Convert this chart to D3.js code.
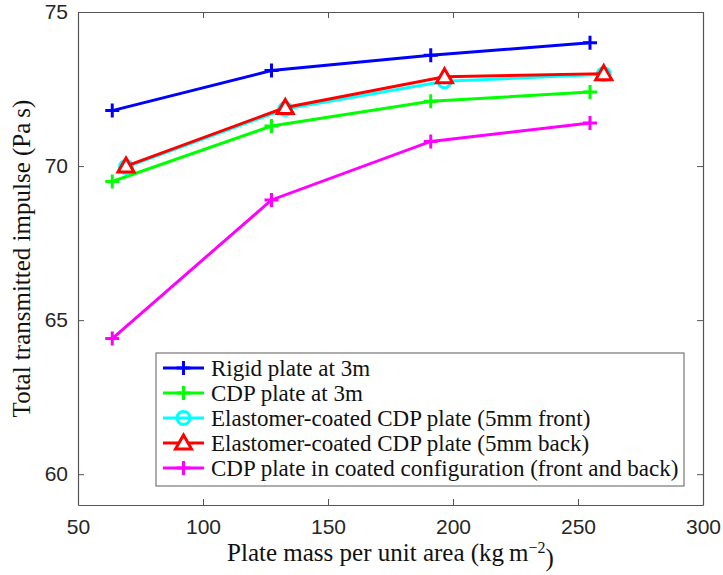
<!DOCTYPE html>
<html>
<head>
<meta charset="utf-8">
<script src="https://cdn.jsdelivr.net/npm/d3@7"></script>
<style>
  body { margin: 0; background: #fff; }
  svg { display: block; }
</style>
</head>
<body>
<svg id="chart"></svg>
<script>
// values
var massRigid = [63.7, 127.4, 191.1, 254.8],
    massCoated = [69.2, 132.9, 196.6, 260.3]

var rigid = [71.8, 73.1, 73.6, 74.0],
    cdp = [69.5, 71.3, 72.1, 72.4],
    coatedFront = [69.97, 71.85, 72.75, 72.98],
    coatedBack = [70.0, 71.9, 72.9, 73.0],
    cdpCoatedConfig = [64.4, 68.9, 70.8, 71.4]

var seriesNames = [
  "Rigid plate at 3m",
  "CDP plate at 3m",
  "Elastomer-coated CDP plate (5mm front)",
  "Elastomer-coated CDP plate (5mm back)",
  "CDP plate in coated configuration (front and back)"
]
var xTicks = [50, 100, 150, 200, 250, 300],
    yTicks = [60, 65, 70, 75]

var series = [
  {name: seriesNames[0], x: massRigid, y: rigid, color: "#0000ff", marker: "plus"},
  {name: seriesNames[1], x: massRigid, y: cdp, color: "#00ff00", marker: "plus"},
  {name: seriesNames[2], x: massCoated, y: coatedFront, color: "#00ffff", marker: "circle"},
  {name: seriesNames[3], x: massCoated, y: coatedBack, color: "#ff0000", marker: "triangle"},
  {name: seriesNames[4], x: massRigid, y: cdpCoatedConfig, color: "#ff00ff", marker: "plus"}
]

var width = 723,
    height = 575,
    mLeft = 78, mRight = 703, mTop = 12, mBottom = 505,
    axisColor = "#555",
    serif = "'Liberation Serif', 'DejaVu Serif', serif",
    sans = "'Liberation Sans', Arial, sans-serif"

var svg = d3.select("#chart").attr("width", width).attr("height", height)

var x = d3.scaleLinear().domain([50, 300]).range([mLeft, mRight]),
    y = d3.scaleLinear().domain([59, 75]).range([mBottom, mTop])

// axes: MATLAB style box, ticks pointing inward
var gx = svg.append("g").attr("transform", `translate(0,${mBottom})`)
  .call(d3.axisBottom(x).tickValues(xTicks).tickSizeInner(-6).tickSizeOuter(0).tickPadding(14))
var gy = svg.append("g").attr("transform", `translate(${mLeft},0)`)
  .call(d3.axisLeft(y).tickValues(yTicks).tickSizeInner(-6).tickSizeOuter(0).tickPadding(10))
var gxt = svg.append("g").attr("transform", `translate(0,${mTop})`)
  .call(d3.axisTop(x).tickValues(xTicks).tickSizeInner(-6).tickSizeOuter(0).tickFormat(""))
var gyr = svg.append("g").attr("transform", `translate(${mRight},0)`)
  .call(d3.axisRight(y).tickValues(yTicks).tickSizeInner(-6).tickSizeOuter(0).tickFormat(""))

;[gx, gy, gxt, gyr].forEach((g) => {
  g.select(".domain").attr("stroke", axisColor).attr("stroke-width", 1.2)
  g.selectAll(".tick line").attr("stroke", axisColor).attr("stroke-width", 1)
  g.selectAll(".tick text").attr("fill", "#262626")
    .style("font-family", sans).style("font-size", "21px")
})

// lines
var line = d3.line()
  .x((d) => x(d[0]))
  .y((d) => y(d[1]))

function drawMarker(g, type, color, cx, cy) {
  if (type === "plus") {
    g.append("path")
      .attr("d", `M${cx - 7},${cy}H${cx + 7}M${cx},${cy - 7}V${cy + 7}`)
      .attr("stroke", color).attr("stroke-width", 3).attr("fill", "none")
  } else if (type === "circle") {
    g.append("circle").attr("cx", cx).attr("cy", cy).attr("r", 6.5)
      .attr("stroke", color).attr("stroke-width", 3).attr("fill", "none")
  } else {
    var s = 8
    g.append("path")
      .attr("d", `M${cx},${cy - s}L${cx + s},${cy + s * 0.75}L${cx - s},${cy + s * 0.75}Z`)
      .attr("stroke", color).attr("stroke-width", 3).attr("fill", "#fff")
      .attr("stroke-linejoin", "miter")
  }
}

var plot = svg.append("g")
series.forEach((s) => {
  var pts = s.x.map((v, i) => [v, s.y[i]])
  var g = plot.append("g")
  g.append("path").datum(pts)
    .attr("d", line)
    .attr("fill", "none")
    .attr("stroke", s.color)
    .attr("stroke-width", 3)
  pts.forEach((p) => drawMarker(g, s.marker, s.color, x(p[0]), y(p[1])))
})

// legend
var lg = svg.append("g")
lg.append("rect")
  .attr("x", 156).attr("y", 353).attr("width", 528).attr("height", 133)
  .attr("fill", "#fff").attr("stroke", "#777").attr("stroke-width", 1.2)
series.forEach((s, i) => {
  var ry = 368 + i * 25
  lg.append("line").attr("x1", 163).attr("x2", 204).attr("y1", ry).attr("y2", ry)
    .attr("stroke", s.color).attr("stroke-width", 3)
  drawMarker(lg, s.marker, s.color, 183.5, ry)
  lg.append("text").attr("x", 211).attr("y", ry).attr("dy", "0.35em")
    .style("font-family", serif).style("font-size", "23px").attr("fill", "#111")
    .text(s.name)
})

// axis titles
svg.append("text")
  .attr("x", (mLeft + mRight) / 2).attr("y", 561)
  .attr("text-anchor", "middle")
  .style("font-family", serif).style("font-size", "25px").attr("fill", "#111")
  .call((t) => {
    t.append("tspan").text("Plate mass per unit area (kg\u2009m")
    t.append("tspan").attr("dy", "-0.5em").style("font-size", "16px").text("\u22122")
    t.append("tspan").attr("dy", "0.5em").text(")")
  })

svg.append("text")
  .attr("transform", `translate(30,${(mTop + mBottom) / 2}) rotate(-90)`)
  .attr("text-anchor", "middle")
  .style("font-family", serif).style("font-size", "25px").attr("fill", "#111")
  .text("Total transmitted impulse (Pa\u2009s)")
</script>
</body>
</html>
